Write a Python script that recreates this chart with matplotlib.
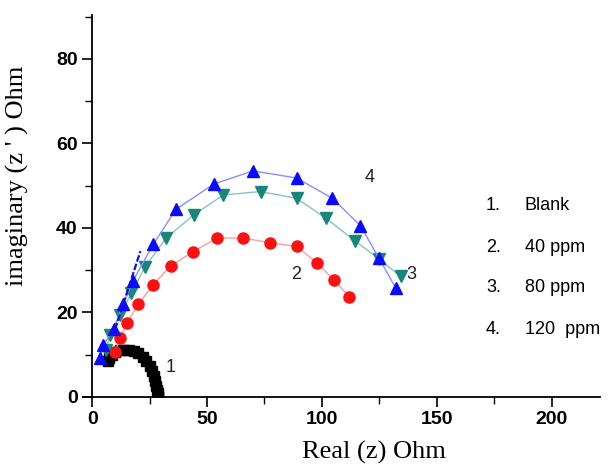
import matplotlib
matplotlib.use("Agg")
import matplotlib.pyplot as plt
from matplotlib.ticker import MultipleLocator

# Данные (Найквист: Real / imaginary, Ohm)
blank_x = [6.8, 7.5, 8.5, 10, 12, 14, 16, 18, 20, 22, 23.5, 25, 26, 27, 27.5, 28, 28.3, 28.5, 28.6, 28.6]
blank_y = [8.4, 9.3, 10, 10.6, 11, 11.1, 11, 10.8, 10.3, 9.5, 8.5, 7.3, 6.1, 4.9, 3.7, 2.6, 1.6, 0.8, 0.3, 0]

ppm40_x = [10, 12.2, 15.1, 20.1, 26.4, 34.2, 44, 54.5, 65.5, 77.4, 89, 97.7, 105.2, 111.9]
ppm40_y = [10.7, 13.9, 17.6, 21.9, 26.5, 31, 34.4, 37.6, 37.6, 36.5, 35.6, 31.8, 27.7, 23.7]

ppm80_x = [6, 7.8, 12.2, 17, 23, 32.2, 44.3, 57.1, 73.3, 89, 101.7, 114.3, 124.9, 134.3]
ppm80_y = [11.1, 14.7, 19.4, 24.5, 30.8, 37.6, 43.1, 47.8, 48.6, 47, 42.3, 37, 32.6, 28.5]

ppm120_x = [3.5, 4.9, 9.3, 13.5, 17.8, 26.7, 36.5, 53, 70.1, 89, 104.6, 116.8, 124.9, 132.2]
ppm120_y = [9.1, 12.3, 16, 22, 27.5, 36.2, 44.4, 50.4, 53.5, 51.8, 47, 40.5, 32.8, 25.7]

# касательная прямая у начала кривых
fit_x = [10, 21]
fit_y = [16, 34.5]

legend_nums = ["1.", "2.", "3.", "4."]
legend_names = ["Blank", "40 ppm", "80 ppm", "120  ppm"]
curve_labels = ["1", "2", "3", "4"]
curve_label_pos = [(34, 7), (89, 29), (139, 29), (121, 52)]

fig = plt.figure(figsize=(6.16, 4.68), dpi=100)
ax = fig.add_axes([0.1347, 0.152, 0.839, 0.816])

ax.plot(blank_x, blank_y, color="black", marker="s", markersize=7.5, linestyle="-", linewidth=1)
ax.plot(ppm40_x, ppm40_y, color="#f5a0a0", marker="o", markersize=8,
        markerfacecolor="#ff1010", markeredgecolor="#ff1010", linewidth=1)
ax.plot(ppm80_x, ppm80_y, color="#86c4bb", marker="v", markersize=9,
        markerfacecolor="#18877a", markeredgecolor="#18877a", linewidth=1)
ax.plot(ppm120_x, ppm120_y, color="#8c8cff", marker="^", markersize=9,
        markerfacecolor="#0a0aff", markeredgecolor="#0a0aff", linewidth=1)
ax.plot(fit_x, fit_y, color="#1010e0", linewidth=1.6, linestyle=(0, (3, 1)))

for lab, (lx, ly) in zip(curve_labels, curve_label_pos):
    ax.text(lx, ly, lab, fontsize=13, color="#222222", family="Liberation Sans",
            ha="center", va="center")

ax.set_xlim(-4, 221)
ax.set_ylim(0, 90.4)
ax.spines["left"].set_position(("data", 0))
ax.spines["right"].set_visible(False)
ax.spines["top"].set_visible(False)
for s in ("left", "bottom"):
    ax.spines[s].set_linewidth(1.3)

ax.xaxis.set_major_locator(MultipleLocator(50))
ax.xaxis.set_minor_locator(MultipleLocator(25))
ax.yaxis.set_major_locator(MultipleLocator(20))
ax.yaxis.set_minor_locator(MultipleLocator(10))
ax.set_xticks([0, 50, 100, 150, 200])
ax.tick_params(which="major", direction="out", length=7, width=1.2, labelsize=14)
ax.tick_params(which="minor", direction="out", length=5, width=1.0)
for t in ax.get_xticklabels() + ax.get_yticklabels():
    t.set_family("Liberation Sans")
    t.set_fontweight("bold")

ax.set_xlabel("Real (z) Ohm", family="Liberation Serif", fontsize=19)
ax.set_ylabel("imaginary (z ' ) Ohm", family="Liberation Serif", fontsize=19)
# подписи осей в оригинале смещены относительно центра
ax.xaxis.set_label_coords(0.563, -0.115)
ax.yaxis.set_label_coords(-0.104, 0.579)

# подписи серий справа
for i, (num, name) in enumerate(zip(legend_nums, legend_names)):
    y = 1 - (206 + i * 41) / 468
    fig.text(486 / 616, y, num, fontsize=13, family="Liberation Sans", va="center")
    fig.text(525 / 616, y, name, fontsize=13, family="Liberation Sans", va="center")

fig.savefig("out.png", dpi=100)
